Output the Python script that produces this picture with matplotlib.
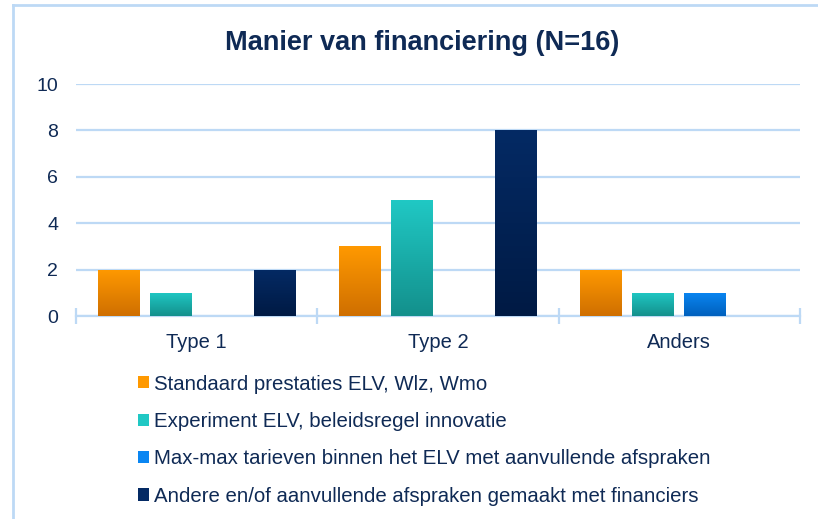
import matplotlib.pyplot as plt
import matplotlib.colors as mcolors
import numpy as np
from matplotlib.lines import Line2D
from matplotlib.patches import Rectangle

plt.rcParams['font.family'] = ['Liberation Sans', 'DejaVu Sans']

# Données
categories = ["Type 1", "Type 2", "Anders"]
series_names = [
    "Standaard prestaties ELV, Wlz, Wmo",
    "Experiment ELV, beleidsregel innovatie",
    "Max-max tarieven binnen het ELV met aanvullende afspraken",
    "Andere en/of aanvullende afspraken gemaakt met financiers",
]
standaard = [2, 3, 2]
experiment = [1, 5, 1]
maxmax = [0, 0, 1]
andere = [2, 8, 0]
series_values = [standaard, experiment, maxmax, andere]

# Couleurs dégradées (haut, bas)
gradients = [
    ("#ff9900", "#cf6f00"),
    ("#20c8c4", "#13908c"),
    ("#0a86f2", "#0060bd"),
    ("#042a64", "#001a44"),
]
txt_color = "#0f2a55"
grid_color = "#bdd9f5"

fig = plt.figure(figsize=(8.18, 5.19), dpi=100)
ax = fig.add_axes([0.093, 0.391, 0.885, 0.447])

x = np.arange(len(categories))
bar_w = 0.174
step = 0.216
for i, vals in enumerate(series_values):
    pos = x + (i - 1.5) * step
    bars = ax.bar(pos, vals, width=bar_w, color=gradients[i][0], zorder=3)
    top, bottom = gradients[i]
    cmap = mcolors.LinearSegmentedColormap.from_list("g%d" % i, [bottom, top])
    grad = np.linspace(0, 1, 100).reshape(-1, 1)
    for b in bars:
        h = b.get_height()
        if h <= 0:
            continue
        x0 = b.get_x()
        im = ax.imshow(grad, cmap=cmap, aspect="auto", origin="lower",
                       extent=(x0, x0 + b.get_width(), 0, h), zorder=4)
        im.set_clip_path(b)

ax.set_xlim(-0.5, 2.5)
ax.set_ylim(0, 10)
ax.set_yticks([0, 2, 4, 6, 8, 10])
ax.yaxis.grid(True, color=grid_color, linewidth=1.6, zorder=0)
ax.set_axisbelow(True)

for s in ["top", "right", "left"]:
    ax.spines[s].set_visible(False)
ax.spines["bottom"].set_color(grid_color)
ax.spines["bottom"].set_linewidth(1.6)
ax.spines["bottom"].set_zorder(2)

ax.set_xticks([-0.5, 0.5, 1.5, 2.5])
ax.set_xticklabels([])
ax.set_xticks(x, minor=True)
ax.set_xticklabels(categories, minor=True)
ax.tick_params(axis="x", which="major", direction="inout", length=12,
               width=1.6, color=grid_color)
ax.tick_params(axis="x", which="minor", length=0, pad=12,
               labelsize=14.5, labelcolor=txt_color)
ax.tick_params(axis="y", length=0, pad=13, labelsize=14, labelcolor=txt_color)

fig.text(0.516, 0.918, "Manier van financiering (N=16)", ha="center", va="center",
         fontsize=19.5, fontweight="bold", color=txt_color)

# Cadre bleu clair (haut et gauche)
fig.add_artist(Line2D([13 / 818, 13 / 818], [0, 1 - 5 / 519], color=grid_color,
                      linewidth=2, transform=fig.transFigure))
fig.add_artist(Line2D([13 / 818, 1], [1 - 5 / 519, 1 - 5 / 519], color=grid_color,
                      linewidth=2, transform=fig.transFigure))

handles = [Rectangle((0, 0), 1, 1, facecolor=g[0]) for g in gradients]
leg = fig.legend(handles, series_names, loc="upper left",
                 bbox_to_anchor=(0.1586, 0.294), frameon=False,
                 fontsize=14.7, handlelength=0.54, handleheight=0.54,
                 handletextpad=0.25, labelspacing=0.9, borderaxespad=0)
for t in leg.get_texts():
    t.set_color(txt_color)

fig.savefig("out.png", dpi=100)
